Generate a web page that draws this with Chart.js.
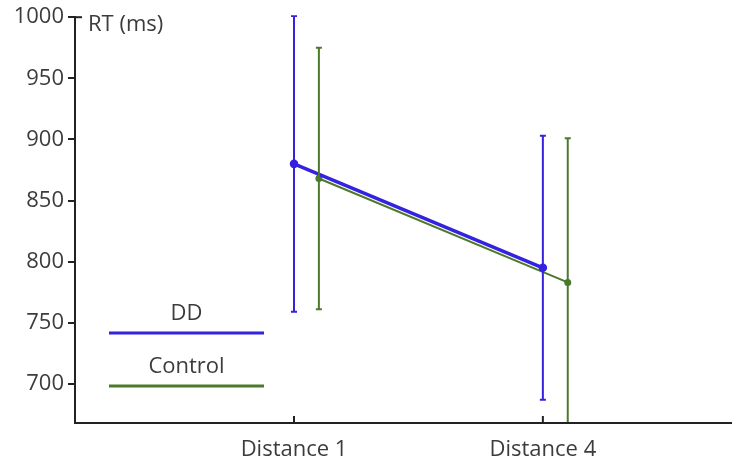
<!DOCTYPE html>
<html>
<head>
<meta charset="utf-8">
<script src="https://cdn.jsdelivr.net/npm/chart.js@4/dist/chart.umd.min.js"></script>
<style>
    html, body { margin: 0; padding: 0; background: #fff; }
    #wrap { width: 732px; height: 463px; }
</style>
</head>
<body>
<div id="wrap"><canvas id="rt-chart"></canvas></div>
<script>
const categories = ["Distance 1", "Distance 4"];
const categoryPos = [1, 2];
const seriesNames = ["DD", "Control"];
const ddMeans = [880, 795];
const ddErrors = [121, 108];
const controlMeans = [868, 783];
const controlErrors = [107, 118];
const yTicks = [700, 750, 800, 850, 900, 950, 1000];

const blue = "#3522de";
const green = "#4b7a2c";
const textColor = "#3c3c3c";
const font = "'Open Sans', 'Noto Sans', sans-serif";

// control points sit slightly right of the category position
const offsets = [0, 0.1];

function toPoints(means, shift) {
    return means.map((v, i) => ({ x: categoryPos[i] + shift, y: v }));
}

const errorBars = {
    id: "errorBars",
    afterDatasetsDraw(chart) {
        const { ctx, chartArea, scales } = chart;
        const errs = [ddErrors, controlErrors];
        ctx.save();
        ctx.beginPath();
        ctx.rect(chartArea.left, chartArea.top - 2, chartArea.right - chartArea.left, chartArea.bottom - chartArea.top + 1);
        ctx.clip();
        chart.data.datasets.forEach((ds, d) => {
            ctx.strokeStyle = ds.borderColor;
            ctx.lineWidth = 2;
            ds.data.forEach((p, i) => {
                const x = scales.x.getPixelForValue(p.x);
                const yTop = scales.y.getPixelForValue(p.y + errs[d][i]);
                const yBot = scales.y.getPixelForValue(p.y - errs[d][i]);
                ctx.beginPath();
                ctx.moveTo(x, yTop);
                ctx.lineTo(x, yBot);
                ctx.moveTo(x - 3, yTop);
                ctx.lineTo(x + 3, yTop);
                ctx.moveTo(x - 3, yBot);
                ctx.lineTo(x + 3, yBot);
                ctx.stroke();
            });
        });
        ctx.restore();
    }
};

const decorations = {
    id: "decorations",
    afterDraw(chart) {
        const { ctx, chartArea, scales } = chart;
        ctx.save();
        // x tick marks pointing into the plot
        ctx.strokeStyle = "#222";
        ctx.lineWidth = 2;
        categoryPos.forEach(v => {
            const x = scales.x.getPixelForValue(v);
            ctx.beginPath();
            ctx.moveTo(x, chartArea.bottom);
            ctx.lineTo(x, chartArea.bottom - 7);
            ctx.stroke();
        });
        // small inward stub at the top of the y axis
        ctx.beginPath();
        ctx.moveTo(chartArea.left, chartArea.top);
        ctx.lineTo(chartArea.left + 7, chartArea.top);
        ctx.stroke();

        ctx.fillStyle = textColor;
        ctx.font = "22px " + font;
        ctx.textAlign = "left";
        ctx.textBaseline = "middle";
        ctx.fillText("RT (ms)", chartArea.left + 13, chartArea.top + 8);

        // legend inside the plot
        const colors = [blue, green];
        const lx1 = chartArea.left + 34, lx2 = chartArea.left + 189;
        const rowY = [318, 371];
        ctx.textAlign = "center";
        seriesNames.forEach((name, i) => {
            ctx.fillStyle = textColor;
            ctx.fillText(name, (lx1 + lx2) / 2, rowY[i] - 4);
            ctx.strokeStyle = colors[i];
            ctx.lineWidth = 3;
            ctx.beginPath();
            ctx.moveTo(lx1, rowY[i] + 15);
            ctx.lineTo(lx2, rowY[i] + 15);
            ctx.stroke();
        });
        ctx.restore();
    }
};

new Chart(document.getElementById("rt-chart"), {
    type: "line",
    data: {
        datasets: [
            {
                label: seriesNames[0],
                data: toPoints(ddMeans, offsets[0]),
                borderColor: blue,
                backgroundColor: blue,
                borderWidth: 3.5,
                pointRadius: 2.5,
                pointHoverRadius: 2.5
            },
            {
                label: seriesNames[1],
                data: toPoints(controlMeans, offsets[1]),
                borderColor: green,
                backgroundColor: green,
                borderWidth: 2,
                pointRadius: 2.5,
                pointHoverRadius: 2.5
            }
        ]
    },
    options: {
        responsive: true,
        maintainAspectRatio: false,
        animation: false,
        layout: { autoPadding: false, padding: { top: 15, right: 0, left: 0, bottom: 2 } },
        plugins: {
            legend: { display: false },
            tooltip: { enabled: false }
        },
        scales: {
            x: {
                type: "linear",
                min: 0.12,
                max: 2.76,
                afterBuildTicks: axis => { axis.ticks = categoryPos.map(v => ({ value: v })); },
                afterFit: axis => { axis.height = 38; },
                ticks: {
                    color: textColor,
                    font: { family: font, size: 22 },
                    padding: 14,
                    callback: v => categories[categoryPos.indexOf(v)]
                },
                grid: { display: true, drawOnChartArea: false, drawTicks: false },
                border: { color: "#222", width: 2 }
            },
            y: {
                min: 668,
                max: 1000,
                afterBuildTicks: axis => { axis.ticks = yTicks.map(v => ({ value: v })); },
                afterFit: axis => { axis.width = 75; },
                ticks: {
                    color: textColor,
                    font: { family: font, size: 22 },
                    padding: 4,
                    callback: v => String(v)
                },
                grid: { drawOnChartArea: false, drawTicks: true, tickLength: 7, color: "#222", lineWidth: 2 },
                border: { color: "#222", width: 2 }
            }
        }
    },
    plugins: [errorBars, decorations]
});
</script>
</body>
</html>
